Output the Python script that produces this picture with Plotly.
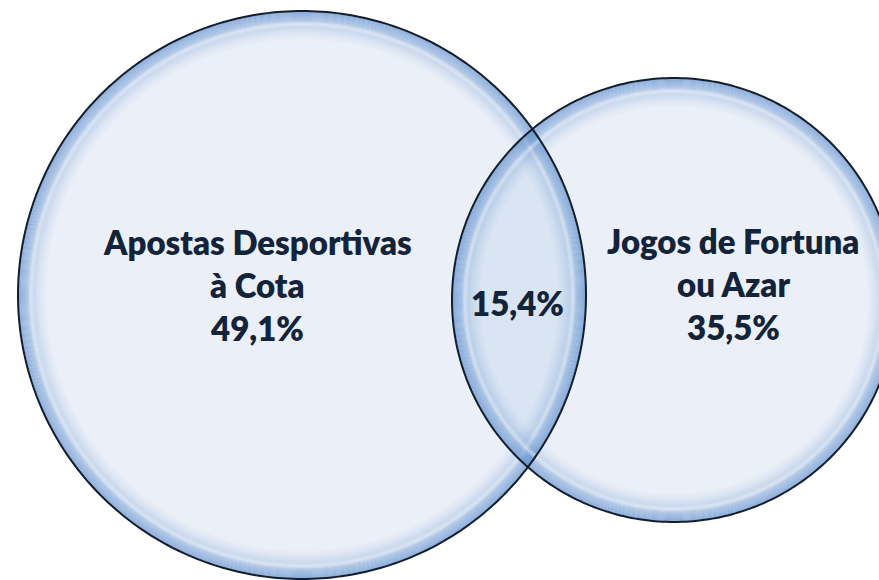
import numpy as np
import plotly.graph_objects as go

# ---------------- data ----------------
set_label_lines = [["Apostas Desportivas", "à Cota"], ["Jogos de Fortuna", "ou Azar"]]
set_values = [49.1, 35.5]          # % exclusive to each set
overlap_value = 15.4               # % in both sets

# ---------------- geometry / style (pixel space) ----------------
W, H = 879, 580
circles = [(302.0, 295.0, 284.0), (674.0, 300.0, 222.0)]   # cx, cy, r
label_anchor = [(257.0, 285.0), (733.0, 284.0)]
overlap_anchor = (517.0, 303.0)
line_step = 43.0
FONT = "Lato"
FONT_SIZE = 33
TEXT_COLOR = "#13233A"
FILL = "#EBF0F8"
LENS_FILL = "#D9E5F3"
OUTLINE = "#141E2B"


def fmt(v):
    return f"{v:.1f}".replace(".", ",") + "%"


def circle_pts(cx, cy, r, n=240, reverse=False):
    t = np.linspace(0, 2 * np.pi, n, endpoint=False)
    if reverse:
        t = t[::-1]
    return cx + r * np.cos(t), cy + r * np.sin(t)


def poly_path(xs, ys):
    return "M " + " L ".join(f"{x:.2f},{y:.2f}" for x, y in zip(xs, ys)) + " Z"


def ring_path(cx, cy, r_out, r_in):
    xo, yo = circle_pts(cx, cy, r_out)
    xi, yi = circle_pts(cx, cy, r_in, reverse=True)
    return poly_path(xo, yo) + " " + poly_path(xi, yi)


shapes = []
# base fills
for cx, cy, r in circles:
    xs, ys = circle_pts(cx, cy, r)
    shapes.append(dict(type="path", xref="x", yref="y", path=poly_path(xs, ys),
                       fillcolor=FILL, line=dict(width=0), layer="below"))

# lens (intersection)
(c1x, c1y, r1), (c2x, c2y, r2) = circles
x1, y1 = circle_pts(c1x, c1y, r1, n=1440)
x2, y2 = circle_pts(c2x, c2y, r2, n=1440)
in1 = np.hypot(x1 - c2x, y1 - c2y) <= r2
in2 = np.hypot(x2 - c1x, y2 - c1y) <= r1
lx = np.concatenate([x1[in1], x2[in2]])
ly = np.concatenate([y1[in1], y2[in2]])
mx, my = lx.mean(), ly.mean()
order = np.argsort(np.arctan2(ly - my, lx - mx))
shapes.append(dict(type="path", xref="x", yref="y", path=poly_path(lx[order], ly[order]),
                   fillcolor=LENS_FILL, line=dict(width=0), layer="below"))

# glossy rims
RIM = 30
for cx, cy, r in circles:
    for k in range(RIM):
        a = 0.7 * (1 - k / RIM) ** 1.5
        shapes.append(dict(type="path", xref="x", yref="y",
                           path=ring_path(cx, cy, r - k, r - k - 1),
                           fillcolor=f"rgba(88,138,204,{a:.3f})", line=dict(width=0),
                           layer="below"))
    # highlight band
    for k, a in zip(range(10, 16), [0.12, 0.28, 0.4, 0.4, 0.28, 0.12]):
        shapes.append(dict(type="path", xref="x", yref="y",
                           path=ring_path(cx, cy, r - k, r - k - 1),
                           fillcolor=f"rgba(255,255,255,{a:.3f})", line=dict(width=0),
                           layer="below"))

# outlines
for cx, cy, r in circles:
    xs, ys = circle_pts(cx, cy, r, n=360)
    shapes.append(dict(type="path", xref="x", yref="y", path=poly_path(xs, ys),
                       fillcolor="rgba(0,0,0,0)", line=dict(color=OUTLINE, width=2),
                       layer="below"))

font = dict(family=FONT, size=FONT_SIZE, color=TEXT_COLOR, weight=800)
annotations = []
for (ax, ay), lines, v in zip(label_anchor, set_label_lines, set_values):
    texts = lines + [fmt(v)]
    n = len(texts)
    for i, t in enumerate(texts):
        annotations.append(dict(x=ax, y=ay + (i - (n - 1) / 2) * line_step, xref="x", yref="y",
                                text=t, showarrow=False, font=font,
                                xanchor="center", yanchor="middle"))
annotations.append(dict(x=overlap_anchor[0], y=overlap_anchor[1], xref="x", yref="y",
                        text=fmt(overlap_value), showarrow=False, font=font,
                        xanchor="center", yanchor="middle"))

fig = go.Figure()
fig.add_trace(go.Scatter(x=[0, W], y=[0, H], mode="markers", marker=dict(opacity=0),
                         hoverinfo="skip", showlegend=False))
fig.update_layout(
    width=W, height=H, margin=dict(l=0, r=0, t=0, b=0),
    paper_bgcolor="white", plot_bgcolor="white",
    xaxis=dict(range=[0, W], visible=False, fixedrange=True),
    yaxis=dict(range=[H, 0], visible=False, fixedrange=True),
    shapes=shapes, annotations=annotations, showlegend=False,
)
fig.write_html("out.html", config={"displayModeBar": False},
               post_script="document.body.style.margin='0px';")
